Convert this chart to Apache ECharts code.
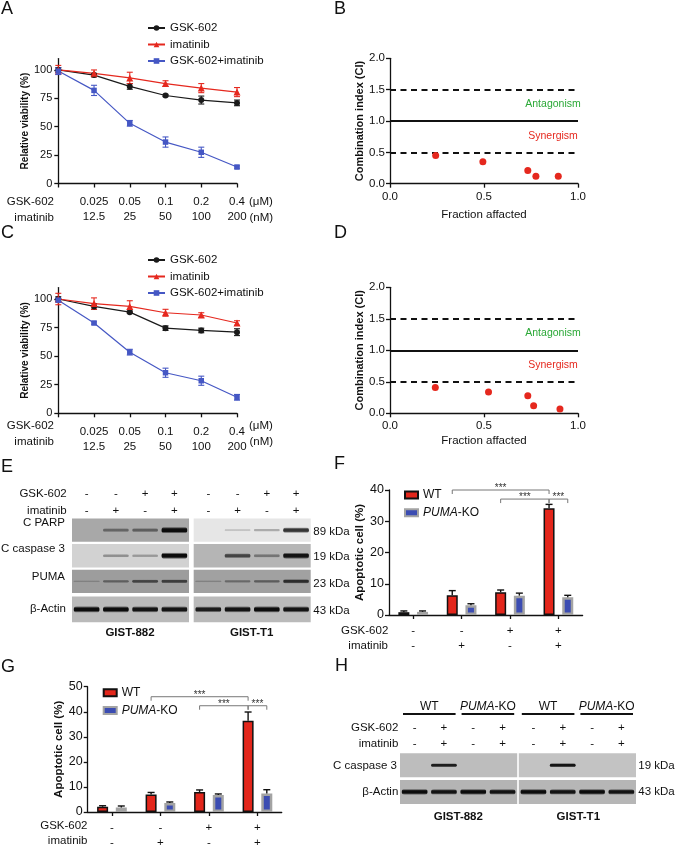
<!DOCTYPE html>
<html><head><meta charset="utf-8">
<script src="https://cdn.jsdelivr.net/npm/echarts@6/dist/echarts.min.js"></script>
<style>html,body{margin:0;padding:0;background:#fff}#c{width:675px;height:846px}</style>
</head><body><div id="c"></div>
<script>
// ---------------- DATA ----------------
const doseGSK = ['', '0.025', '0.05', '0.1', '0.2', '0.4'];
const doseIma = ['', '12.5', '25', '50', '100', '200'];
const doseUnits = ['(μM)', '(nM)'];
const drugRows = ['GSK-602', 'imatinib'];
const viabTicks = [0, 25, 50, 75, 100];
const lineNames = ['GSK-602', 'imatinib', 'GSK-602+imatinib'];

const A_gsk = [100, 95.5, 85.5, 77.5, 73.5, 71];
const A_gskErr = [2, 1.5, 2.5, 1, 3.5, 2.5];
const A_ima = [100, 97, 93, 88, 84, 80.5];
const A_imaErr = [4, 3, 5, 2.5, 4, 4];
const A_combo = [99, 82, 53, 36.5, 27.5, 14.5];
const A_comboErr = [3, 4.5, 2.5, 4.5, 4.5, 1];

const C_gsk = [100, 93.5, 88.5, 74.5, 72.5, 71];
const C_gskErr = [2, 2.5, 1, 2, 2, 3];
const C_ima = [100, 96, 93.5, 88, 86, 79];
const C_imaErr = [5, 5, 5, 3, 2, 2];
const C_combo = [99, 79, 53.5, 35.5, 28.5, 14];
const C_comboErr = [1.5, 1, 2.5, 4, 4, 2.5];

const B_fa = [0.243, 0.494, 0.733, 0.776, 0.895];
const B_ci = [0.45, 0.35, 0.21, 0.12, 0.12];
const D_fa = [0.241, 0.524, 0.733, 0.764, 0.904];
const D_ci = [0.41, 0.34, 0.28, 0.12, 0.07];
const ciDashed = [0.5, 1.5];
const ciSolid = [1.0];
const ciDashEnd = 0.985;
const ciZones = ['Antagonism', 'Synergism'];

const apopGroups = ['g1', 'g2', 'g3', 'g4'];
const apopGSK = ['-', '-', '+', '+'];
const apopIma = ['-', '+', '-', '+'];
const barNames = ['WT', 'PUMA-KO'];
const F_wt = [0.9, 6.3, 7.3, 34.2];
const F_wtErr = [0.4, 1.5, 0.7, 1.2];
const F_ko = [1.0, 3.1, 6.2, 5.7];
const F_koErr = [0.3, 0.5, 0.8, 0.6];
const G_wt = [2.1, 7.0, 8.0, 36.4];
const G_wtErr = [0.4, 0.8, 0.8, 3.5];
const G_ko = [1.8, 3.6, 6.8, 7.4];
const G_koErr = [0.6, 0.4, 0.4, 1.5];
// significance: [cat1, side1, cat2, side2, y]
const F_sig = [[1, -1, 3, -1, 40], [2, -1, 3, -1, 37.1], [3, -1, 3, 1, 37.1]];
const G_sig = [[1, -1, 3, -1, 46], [2, -1, 3, -1, 42.4], [3, -1, 3, 1, 42.4]];

// western blots
const cellLines = ['GIST-882', 'GIST-T1'];
const E_rows = ['C PARP', 'C caspase 3', 'PUMA', 'β-Actin'];
const E_kda = ['89 kDa', '19 kDa', '23 kDa', '43 kDa'];
const E_gsk = ['-', '-', '+', '+'];
const E_ima = ['-', '+', '-', '+'];
const E_bg = [[168, 230], [210, 181], [157, 161], [186, 186]];
const E_bands = [
  [[0, 0.35, 0.4, 0.95], [0, 0.06, 0.18, 0.75]],
  [[0, 0.25, 0.2, 0.95], [0, 0.6, 0.3, 0.9]],
  [[0.1, 0.35, 0.55, 0.6], [0.12, 0.3, 0.38, 0.72]],
  [[0.95, 0.95, 0.9, 0.9], [0.85, 0.9, 0.95, 0.9]]
];
const H_rows = ['C caspase 3', 'β-Actin'];
const H_kda = ['19 kDa', '43 kDa'];
const H_groups = ['WT', 'PUMA-KO', 'WT', 'PUMA-KO'];
const H_gsk = ['-', '+', '-', '+'];
const H_ima = ['-', '+', '-', '+'];
const H_bg = [[189, 195], [180, 182]];
const H_bands = [
  [[0, 0.85, 0, 0], [0, 0.9, 0, 0]],
  [[0.95, 0.9, 0.95, 0.9], [0.95, 0.9, 0.95, 0.9]]
];

// ---------------- STYLE / LAYOUT ----------------
const FONT = '"Liberation Sans", Arial, Helvetica, sans-serif';
const INK = '#111';
const C_BLACK = '#1a1a1a', C_RED = '#e5281e', C_BLUE = '#4557c4';
const BAR_RED = '#e3261b', BAR_BLUE = '#3b4cb2', BAR_GRAY = '#a3a3a3';
const BAR_W = 11, BAR_OFF = 9.35;
const E_lay = { gap: 0.16, rowTop: [0, 1.0, 2.0, 3.05], rowH: [0.91, 0.91, 0.91, 1.0], markOff: [-24.5, -7.5], bandScale: [1, 1, 0.8, 1] };
const H_lay = { gap: 0.055, rowTop: [0, 1.11], rowH: [1, 1], markOff: [-25, -9], headOff: -46.6, lineOff: -39.3, bandScale: [0.68, 0.9] };

const axLine = { show: true, lineStyle: { color: '#111', width: 1.3 } };
const axTick = { show: true, length: 4, lineStyle: { color: '#111', width: 1.3 } };
const lab = (o) => Object.assign({ color: INK, fontFamily: FONT, fontSize: 11.5 }, o);

function errRender(color) {
  return function (params, api) {
    const x = api.value(0), m = api.value(1), e = api.value(2);
    const t = api.coord([x, m + e]), b = api.coord([x, m - e]);
    const cw = 3;
    const st = { stroke: color, lineWidth: 1.1 };
    return { type: 'group', children: [
      { type: 'line', shape: { x1: t[0], y1: t[1], x2: b[0], y2: b[1] }, style: st },
      { type: 'line', shape: { x1: t[0] - cw, y1: t[1], x2: t[0] + cw, y2: t[1] }, style: st },
      { type: 'line', shape: { x1: b[0] - cw, y1: b[1], x2: b[0] + cw, y2: b[1] }, style: st }
    ] };
  };
}
function barErrRender(params, api) {
  const c = api.value(0), m = api.value(1), e = api.value(2), s = api.value(3);
  const p0 = api.coord([c, m]), p1 = api.coord([c, m + e]);
  const x = p0[0] + s * BAR_OFF, cw = 3.5;
  const st = { stroke: '#111', lineWidth: 1.4 };
  return { type: 'group', children: [
    { type: 'line', shape: { x1: x, y1: p0[1], x2: x, y2: p1[1] }, style: st },
    { type: 'line', shape: { x1: x - cw, y1: p1[1], x2: x + cw, y2: p1[1] }, style: st }
  ] };
}
function sigRender(params, api) {
  const c1 = api.value(0), s1 = api.value(1), c2 = api.value(2), s2 = api.value(3), y = api.value(4);
  const p1 = api.coord([c1, y]), p2 = api.coord([c2, y]);
  const x1 = p1[0] + s1 * BAR_OFF, x2 = p2[0] + s2 * BAR_OFF, yy = p1[1];
  return { type: 'group', children: [
    { type: 'polyline', shape: { points: [[x1, yy + 4], [x1, yy], [x2, yy], [x2, yy + 4]] }, style: { stroke: '#777', lineWidth: 1, fill: null } },
    { type: 'text', style: { text: '***', x: (x1 + x2) / 2, y: yy - 1.5, align: 'center', verticalAlign: 'middle', font: '10px ' + FONT, fill: '#333' } }
  ] };
}
function blotData(bg, bands) {
  const d = [];
  for (let r = 0; r < bg.length; r++) for (let p = 0; p < 2; p++) {
    d.push([0, p, 0, r, bg[r][p]]);
    bands[r][p].forEach((v, l) => { if (v > 0) d.push([1, p, l, r, v]); });
  }
  return d;
}
function blotRender(lay) {
  return function (params, api) {
    const kind = api.value(0), p = api.value(1), l = api.value(2), r = api.value(3), v = api.value(4);
    const x0 = p * (4 + lay.gap);
    if (kind === 0) {
      const a = api.coord([x0, lay.rowTop[r]]), b = api.coord([x0 + 4, lay.rowTop[r] + lay.rowH[r]]);
      const g = Math.round(v);
      return { type: 'rect', shape: { x: a[0], y: a[1], width: b[0] - a[0], height: b[1] - a[1] }, style: { fill: 'rgb(' + g + ',' + g + ',' + g + ')' } };
    }
    const c = api.coord([x0 + l + 0.5, lay.rowTop[r] + lay.rowH[r] / 2]);
    const lw = api.size([1, 0])[0];
    const w = lw * 0.88, h = (2.5 + 4.5 * v) * lay.bandScale[r];
    const a = Math.min(1, 0.1 + 0.95 * v);
    const col = (al) => 'rgba(12,12,12,' + al + ')';
    return { type: 'rect', shape: { x: c[0] - w / 2, y: c[1] - h / 2, width: w, height: h, r: h / 2 },
      style: { fill: new echarts.graphic.LinearGradient(0, 0, 0, 1, [
        { offset: 0, color: col(0) }, { offset: 0.3, color: col(a) }, { offset: 0.7, color: col(a) }, { offset: 1, color: col(0) }]) } };
  };
}
function markData() {
  const d = [];
  for (let p = 0; p < 2; p++) for (let l = 0; l < 4; l++) for (let k = 0; k < 2; k++) d.push([p, l, k]);
  return d;
}
function markRender(lay, gsk, ima) {
  return function (params, api) {
    const p = api.value(0), l = api.value(1), k = api.value(2);
    const c = api.coord([p * (4 + lay.gap) + l + 0.5, 0]);
    return { type: 'text', style: { text: (k ? ima : gsk)[l], x: c[0], y: c[1] + lay.markOff[k], align: 'center', verticalAlign: 'middle', font: '11.5px ' + FONT, fill: INK } };
  };
}
function headRender(params, api) {
  const p = api.value(0), g = api.value(1);
  const xa = api.coord([p * (4 + H_lay.gap) + g * 2, 0]), xb = api.coord([p * (4 + H_lay.gap) + g * 2 + 2, 0]);
  const name = H_groups[p * 2 + g];
  const txt = name === 'PUMA-KO' ? '{i|PUMA}-KO' : name;
  return { type: 'group', children: [
    { type: 'text', style: { text: txt, x: (xa[0] + xb[0]) / 2, y: xa[1] + H_lay.headOff, align: 'center', verticalAlign: 'middle', font: '12px ' + FONT, fill: INK,
      rich: { i: { fontStyle: 'italic', fontSize: 12, fontFamily: FONT, fill: INK } } } },
    { type: 'line', shape: { x1: xa[0] + 3, y1: xa[1] + H_lay.lineOff, x2: xb[0] - 3, y2: xa[1] + H_lay.lineOff }, style: { stroke: '#111', lineWidth: 2 } }
  ] };
}

function T(text, x, y, o) {
  o = o || {};
  const al = o.align || 'left';
  return { type: 'text', x: 0, y: 0, silent: true, z: 10, style: {
    text: text, x: x, y: y, fill: o.color || INK,
    font: (o.style || 'normal') + ' ' + (o.weight || 'normal') + ' ' + (o.size || 11.5) + 'px ' + FONT,
    align: al, verticalAlign: 'middle', textAlign: al, textVerticalAlign: 'middle', rich: o.rich } };
}

// ---------------- OPTION ----------------
const grids = [
  { left: 58.3, top: 58.6, width: 178.7, height: 124.9 },   // 0 A
  { left: 390, top: 58.3, width: 188, height: 125.4 },      // 1 B
  { left: 58.3, top: 287.6, width: 178.7, height: 125.7 },  // 2 C
  { left: 390, top: 287.3, width: 188, height: 126 },       // 3 D
  { left: 389, top: 490, width: 193.6, height: 125 },       // 4 F
  { left: 87.7, top: 686.7, width: 194, height: 125.3 },    // 5 G
  { left: 72, top: 518.5, width: 238.7, height: 103.7 },    // 6 E blot
  { left: 400, top: 753.3, width: 236, height: 50.6 }       // 7 H blot
].map(g => Object.assign({ outerBoundsMode: 'none', containLabel: false, show: false }, g));

function doseX(gi) {
  return { gridIndex: gi, type: 'category', data: doseGSK, boundaryGap: false, axisLine: axLine,
    axisTick: Object.assign({ interval: 0, alignWithLabel: true }, axTick),
    axisLabel: lab({ interval: 0, margin: 10.5, lineHeight: 15.5, formatter: (v, i) => doseGSK[i] + '\n' + doseIma[i] }),
    splitLine: { show: false } };
}
function viabY(gi) {
  return { gridIndex: gi, type: 'value', min: 0, max: 110, axisLine: axLine,
    axisTick: Object.assign({ customValues: viabTicks }, axTick),
    axisLabel: lab({ customValues: viabTicks, margin: 6, fontSize: 11 }), splitLine: { show: false },
    name: 'Relative viability (%)', nameLocation: 'middle', nameGap: 24,
    nameTextStyle: { fontWeight: 'bold', fontSize: 10, color: INK, fontFamily: FONT } };
}
function faX(gi, gap) {
  return { gridIndex: gi, type: 'value', min: 0, max: 1, interval: 0.5, axisLine: axLine, axisTick: axTick,
    axisLabel: lab({ margin: 7, formatter: v => v.toFixed(1) }), splitLine: { show: false },
    name: 'Fraction affacted', nameLocation: 'middle', nameGap: gap, nameTextStyle: { fontSize: 11.5, color: INK, fontFamily: FONT } };
}
function ciY(gi) {
  return { gridIndex: gi, type: 'value', min: 0, max: 2, interval: 0.5, axisLine: axLine, axisTick: axTick,
    axisLabel: lab({ margin: 5, formatter: v => v.toFixed(1) }), splitLine: { show: false },
    name: 'Combination index (CI)', nameLocation: 'middle', nameGap: 22,
    nameTextStyle: { fontWeight: 'bold', fontSize: 11, color: INK, fontFamily: FONT } };
}
function apopX(gi) {
  return { gridIndex: gi, type: 'category', data: apopGroups, boundaryGap: true, axisLine: axLine,
    axisTick: Object.assign({ interval: 0, alignWithLabel: true }, axTick),
    axisLabel: lab({ interval: 0, margin: 8.5, lineHeight: 15, formatter: (v, i) => apopGSK[i] + '\n' + apopIma[i] }),
    splitLine: { show: false } };
}
function apopY(gi, max, gap) {
  return { gridIndex: gi, type: 'value', min: 0, max: max, interval: 10, axisLine: axLine, axisTick: axTick,
    axisLabel: lab({ margin: 5, fontSize: 12.5 }), splitLine: { show: false },
    name: 'Apoptotic cell (%)', nameLocation: 'middle', nameGap: gap,
    nameTextStyle: { fontWeight: 'bold', fontSize: 11.5, color: INK, fontFamily: FONT } };
}
const hidX = (gi, max) => ({ gridIndex: gi, type: 'value', min: 0, max: max, show: false, splitLine: { show: false } });
const hidY = (gi, max) => ({ gridIndex: gi, type: 'value', min: 0, max: max, inverse: true, show: false, splitLine: { show: false } });

const lineCfg = [
  { color: C_BLACK, symbol: 'circle', size: 6 },
  { color: C_RED, symbol: 'triangle', size: 7 },
  { color: C_BLUE, symbol: 'rect', size: 5.5 }
];
function lineSeries(gi, vals, errs) {
  const out = [];
  vals.forEach((v, k) => {
    const cfg = lineCfg[k];
    out.push({ type: 'custom', name: 'err' + gi + k, xAxisIndex: gi, yAxisIndex: gi, renderItem: errRender(cfg.color),
      data: v.map((m, i) => [i, m, errs[k][i]]), z: 3, clip: false, silent: true });
    out.push({ type: 'line', name: lineNames[k], xAxisIndex: gi, yAxisIndex: gi, data: v,
      symbol: cfg.symbol, symbolSize: cfg.size, showSymbol: true, showAllSymbol: true,
      lineStyle: { color: cfg.color, width: 1.2 }, itemStyle: { color: cfg.color, opacity: 1 }, z: 4, silent: true });
  });
  return out;
}
function ciSeries(gi, fa, ci) {
  const ml = [];
  ciDashed.forEach(y => ml.push([{ coord: [0, y], lineStyle: { type: [6, 4.5], width: 2, color: '#111' } }, { coord: [ciDashEnd, y] }]));
  ciSolid.forEach(y => ml.push([{ coord: [0, y], lineStyle: { type: 'solid', width: 2, color: '#111' } }, { coord: [1, y] }]));
  return { type: 'scatter', name: 'ci' + gi, xAxisIndex: gi, yAxisIndex: gi, data: fa.map((x, i) => [x, ci[i]]),
    symbol: 'circle', symbolSize: 7, itemStyle: { color: C_RED, opacity: 1 }, silent: true, z: 5,
    markLine: { silent: true, symbol: ['none', 'none'], label: { show: false }, animation: false, data: ml } };
}
function barSeries(gi, wt, wtE, ko, koE, sig) {
  return [
    { type: 'bar', name: barNames[0], xAxisIndex: gi, yAxisIndex: gi, data: wt, barWidth: BAR_W, barGap: '70%',
      itemStyle: { color: BAR_RED, borderColor: '#111', borderWidth: 1.5 }, silent: true, z: 2 },
    { type: 'bar', name: barNames[1], xAxisIndex: gi, yAxisIndex: gi, data: ko, barWidth: BAR_W, barGap: '70%',
      itemStyle: { color: BAR_BLUE, borderColor: BAR_GRAY, borderWidth: 2.5 }, silent: true, z: 2 },
    { type: 'custom', name: 'berr' + gi, xAxisIndex: gi, yAxisIndex: gi, renderItem: barErrRender, clip: false, silent: true, z: 3,
      data: wt.map((m, i) => [i, m, wtE[i], -1]).concat(ko.map((m, i) => [i, m, koE[i], 1])) },
    { type: 'custom', name: 'sig' + gi, xAxisIndex: gi, yAxisIndex: gi, renderItem: sigRender, clip: false, silent: true, z: 3, data: sig }
  ];
}
function lineLegend(top) {
  return { data: lineNames, orient: 'vertical', left: 147, top: top, padding: 0, itemWidth: 17, itemHeight: 7, itemGap: 3.5,
    selectedMode: false, textStyle: { fontSize: 11.5, lineHeight: 13, color: INK, fontFamily: FONT } };
}
function barLegend(left, top) {
  return { data: barNames, orient: 'vertical', left: left, top: top, padding: 0, itemWidth: 13, itemHeight: 7, itemGap: 3.7,
    icon: 'rect', selectedMode: false,
    formatter: n => n === 'PUMA-KO' ? '{i|PUMA}-KO' : n,
    textStyle: { fontSize: 12, lineHeight: 14, color: INK, fontFamily: FONT, rich: { i: { fontStyle: 'italic', fontSize: 12, fontFamily: FONT, color: INK } } } };
}

const series = [].concat(
  lineSeries(0, [A_gsk, A_ima, A_combo], [A_gskErr, A_imaErr, A_comboErr]),
  [ciSeries(1, B_fa, B_ci)],
  lineSeries(2, [C_gsk, C_ima, C_combo], [C_gskErr, C_imaErr, C_comboErr]),
  [ciSeries(3, D_fa, D_ci)],
  barSeries(4, F_wt, F_wtErr, F_ko, F_koErr, F_sig),
  barSeries(5, G_wt, G_wtErr, G_ko, G_koErr, G_sig),
  [
    { type: 'custom', name: 'blotE', xAxisIndex: 6, yAxisIndex: 6, renderItem: blotRender(E_lay), data: blotData(E_bg, E_bands), clip: false, silent: true },
    { type: 'custom', name: 'marksE', xAxisIndex: 6, yAxisIndex: 6, renderItem: markRender(E_lay, E_gsk, E_ima), data: markData(), clip: false, silent: true },
    { type: 'custom', name: 'blotH', xAxisIndex: 7, yAxisIndex: 7, renderItem: blotRender(H_lay), data: blotData(H_bg, H_bands), clip: false, silent: true },
    { type: 'custom', name: 'marksH', xAxisIndex: 7, yAxisIndex: 7, renderItem: markRender(H_lay, H_gsk, H_ima), data: markData(), clip: false, silent: true },
    { type: 'custom', name: 'headH', xAxisIndex: 7, yAxisIndex: 7, renderItem: headRender, data: [[0, 0], [0, 1], [1, 0], [1, 1]], clip: false, silent: true }
  ]
);

const graphic = [
  T('A', 1, 9, { size: 18 }), T('B', 334, 9, { size: 18 }), T('C', 1, 233, { size: 18 }), T('D', 334, 233, { size: 18 }),
  T('E', 1, 467, { size: 18 }), T('F', 334, 464, { size: 18 }), T('G', 1, 667, { size: 18 }), T('H', 335, 666, { size: 18 }),
  // A / C dose rows
  T(drugRows[0], 54, 202, { align: 'right' }), T(drugRows[1], 54, 217.5, { align: 'right' }),
  T(doseUnits[0], 249, 202), T(doseUnits[1], 249.5, 217.5),
  T(drugRows[0], 54, 426, { align: 'right' }), T(drugRows[1], 54, 441.7, { align: 'right' }),
  T(doseUnits[0], 249, 426), T(doseUnits[1], 249.5, 441.7),
  // B / D zones
  T(ciZones[0], 553, 104, { align: 'center', size: 10.5, color: '#2aa836' }), T(ciZones[1], 553, 135.7, { align: 'center', size: 10.5, color: C_RED }),
  T(ciZones[0], 553, 333.3, { align: 'center', size: 10.5, color: '#2aa836' }), T(ciZones[1], 553, 365, { align: 'center', size: 10.5, color: C_RED }),
  // F / G rows
  T(drugRows[0], 388.3, 631, { align: 'right' }), T(drugRows[1], 388, 646, { align: 'right' }),
  T(drugRows[0], 87.5, 826, { align: 'right' }), T(drugRows[1], 87.5, 841, { align: 'right' }),
  // E labels
  T(drugRows[0], 66.7, 494, { align: 'right' }), T(drugRows[1], 66.7, 511, { align: 'right' }),
  T(E_rows[0], 65, 522.7, { align: 'right' }), T(E_rows[1], 65, 549.3, { align: 'right' }),
  T(E_rows[2], 65, 576.7, { align: 'right' }), T(E_rows[3], 66, 608.5, { align: 'right' }),
  T(E_kda[0], 313.3, 531.7), T(E_kda[1], 313.3, 557.3), T(E_kda[2], 313.3, 584), T(E_kda[3], 313.3, 610.7),
  T(cellLines[0], 130, 633.3, { align: 'center', weight: 'bold' }), T(cellLines[1], 251.7, 633.3, { align: 'center', weight: 'bold' }),
  // H labels
  T(drugRows[0], 398.3, 728.3, { align: 'right' }), T(drugRows[1], 398.3, 744.3, { align: 'right' }),
  T(H_rows[0], 333, 766), T(H_rows[1], 398.3, 791.7, { align: 'right' }),
  T(H_kda[0], 638.3, 766), T(H_kda[1], 638.3, 792),
  T(cellLines[0], 458.3, 816.7, { align: 'center', weight: 'bold' }), T(cellLines[1], 578.3, 816.7, { align: 'center', weight: 'bold' })
];

const option = {
  animation: false,
  backgroundColor: '#fff',
  textStyle: { fontFamily: FONT },
  grid: grids,
  xAxis: [doseX(0), faX(1, 25), doseX(2), faX(3, 22), apopX(4), apopX(5), hidX(6, 8.16), hidX(7, 8.055)],
  yAxis: [viabY(0), ciY(1), viabY(2), ciY(3), apopY(4, 40, 19), apopY(5, 50, 17.5), hidY(6, 4.05), hidY(7, 2.11)],
  legend: [lineLegend(21.5), lineLegend(253.5), barLegend(404, 488), barLegend(102.7, 685.7)],
  series: series,
  graphic: graphic
};
const chart = echarts.init(document.getElementById('c'), null, { renderer: 'canvas', width: 675, height: 846 });
chart.setOption(option);
</script></body></html>
